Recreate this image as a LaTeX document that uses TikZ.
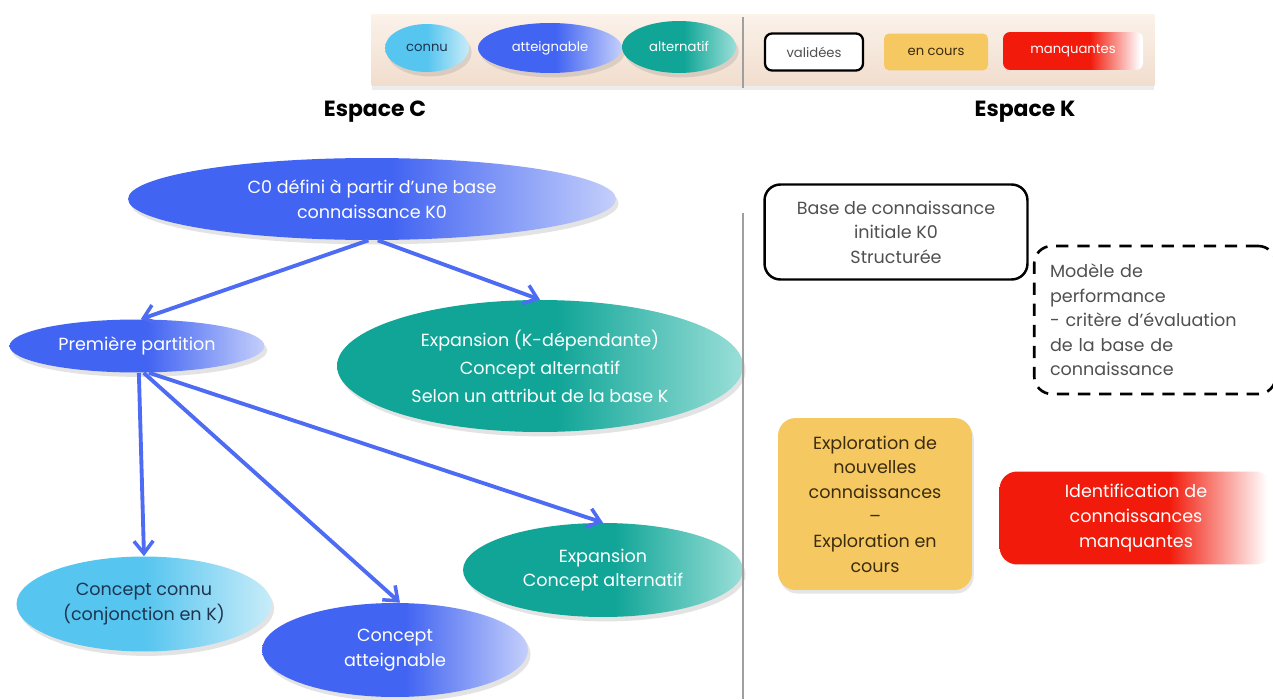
\documentclass[tikz,border=0pt]{standalone}
\usepackage{fontspec}
\setmainfont{Poppins}
\usetikzlibrary{shapes.geometric,arrows.meta,shadows}
\definecolor{blueA}{HTML}{4264F2}
\definecolor{blueB}{HTML}{C4CFFB}
\definecolor{tealA}{HTML}{10A597}
\definecolor{tealB}{HTML}{9ADFD8}
\definecolor{cyanA}{HTML}{56C5EF}
\definecolor{cyanB}{HTML}{C8ECF9}
\definecolor{yelA}{HTML}{F5C862}
\definecolor{redA}{HTML}{F21A0A}
\definecolor{arrC}{HTML}{4E6BF4}
\definecolor{begA}{HTML}{FBF2EA}
\definecolor{begB}{HTML}{F1DDCD}
\definecolor{txtD}{HTML}{1E3550}
\definecolor{txtG}{HTML}{505050}
\definecolor{txtY}{HTML}{3C2C0E}
\pgfdeclarehorizontalshading{redfade}{100bp}{color(0bp)=(redA); color(56bp)=(redA); color(74bp)=(white); color(100bp)=(white)}
\pgfdeclarehorizontalshading{bluefade}{100bp}{color(0bp)=(blueA); color(52bp)=(blueA); color(75bp)=(blueB); color(100bp)=(blueB)}
\pgfdeclarehorizontalshading{tealfade}{100bp}{color(0bp)=(tealA); color(52bp)=(tealA); color(75bp)=(tealB); color(100bp)=(tealB)}
\pgfdeclarehorizontalshading{cyanfade}{100bp}{color(0bp)=(cyanA); color(50bp)=(cyanA); color(75bp)=(cyanB); color(100bp)=(cyanB)}
\tikzset{
  ell/.style={ellipse, inner sep=0pt, align=center, drop shadow={shadow xshift=1.5pt, shadow yshift=-2.5pt, opacity=0.22}},
  bluell/.style={ell, shading=bluefade, text=white},
  tealell/.style={ell, shading=tealfade, text=white},
  cyanell/.style={ell, shading=cyanfade, text=txtD},
  maintxt/.style={font=\fontsize{10}{14}\selectfont},
  legtxt/.style={font=\fontsize{7.5}{9}\selectfont},
  arr/.style={draw=arrC, line width=2.2pt, -{Straight Barb[length=7pt,width=11pt,line width=2pt]}},
  divider/.style={draw=gray!75, line width=1pt},
  redbox/.style={rounded corners=6pt, shading=redfade, text=white, align=center},
}
\begin{document}
\begin{tikzpicture}[x=0.02cm,y=-0.02cm]
\useasboundingbox[fill=white] (0,0) rectangle (1273,699);
% legend bar
\node[draw=none, top color=begA, bottom color=begB, minimum width=15.66cm, minimum height=1.44cm, inner sep=0pt,
  drop shadow={shadow xshift=0pt, shadow yshift=-2pt, opacity=0.15}] (legbg) at (763,50) {};
\node[cyanell, legtxt, minimum width=1.68cm, minimum height=0.96cm] (lconnu) at (427,48) {connu};
\node[bluell, legtxt, minimum width=2.88cm, minimum height=1.0cm] (latt) at (550,48) {atteignable};
\node[tealell, legtxt, minimum width=2.28cm, minimum height=1.04cm] (lalt) at (679,47) {alternatif};
\coordinate (ldtop) at (743,17);
\coordinate (ldbot) at (743,88);
\draw[divider] (ldtop) -- (ldbot);
\node[draw=black, line width=1.3pt, rounded corners=4pt, fill=white, legtxt, text=txtG, minimum width=1.96cm, minimum height=0.74cm] (lval) at (814,52) {validées};
\node[fill=yelA, rounded corners=3pt, legtxt, text=txtY, minimum width=2.08cm, minimum height=0.74cm] (lenc) at (936,52) {en cours};
\node[redbox, legtxt, minimum width=2.8cm, minimum height=0.76cm, rounded corners=4pt] (lman) at (1073,51) {manquantes};
% titles
\node[font=\fontsize{12.5}{14}\selectfont\bfseries] (espC) at (375,112) {Espace C};
\node[font=\fontsize{12.5}{14}\selectfont\bfseries] (espK) at (1025,112) {Espace K};
% C space
\node[bluell, maintxt, minimum width=9.76cm, minimum height=1.64cm] (c0) at (372,199) {C0 défini à partir d'une base\\connaissance K0};
\node[bluell, maintxt, minimum width=5.1cm, minimum height=1.06cm] (p1) at (137,346) {Première partition};
\node[tealell, maintxt, font=\fontsize{10}{16}\selectfont, minimum width=8.12cm, minimum height=2.64cm] (e1) at (540,366) {Expansion (K-dépendante)\\Concept alternatif\\Selon un attribut de la base K};
\node[tealell, maintxt, minimum width=5.6cm, minimum height=1.88cm] (e2) at (603,570) {Expansion\\Concept alternatif};
\node[cyanell, maintxt, minimum width=5.1cm, minimum height=1.9cm] (cc) at (144,604) {Concept connu\\(conjonction en K)};
\node[bluell, maintxt, minimum width=5.32cm, minimum height=1.88cm] (ca) at (395,650) {Concept\\atteignable};
\draw[arr] (c0.-95) -- (p1.82);
\draw[arr] (c0.-82) -- (e1.north);
\draw[arr] (p1.-86) -- (cc.north);
\draw[arr] (p1.-76) -- (ca.84);
\draw[arr] (p1.-66) -- (e2.north);
% main divider
\coordinate (mdtop) at (743,213);
\coordinate (mdbot) at (743,699);
\draw[divider] (mdtop) -- (mdbot);
% K space
\node[draw=black, line width=1.4pt, rounded corners=9pt, fill=white, maintxt, text=txtG, align=center, minimum width=5.26cm, minimum height=1.9cm] (base) at (896,232) {Base de connaissance\\initiale K0\\Structurée};
\node[draw=black, line width=1.5pt, dash pattern=on 7pt off 5pt, rounded corners=10pt, maintxt, text=txtG, align=left, minimum width=4.74cm, minimum height=2.96cm, text width=4.2cm, inner xsep=9pt] (mod) at (1155,320) {Modèle de\\performance\\- critère d'évaluation\\de la base de\\connaissance};
\node[fill=yelA, rounded corners=10pt, maintxt, text=txtY, align=center, minimum width=3.88cm, minimum height=3.44cm, drop shadow={shadow xshift=1pt, shadow yshift=-2pt, opacity=0.2}] (expl) at (875,504) {Exploration de\\nouvelles\\connaissances\\–\\Exploration en\\cours};
\node[redbox, maintxt, rounded corners=10pt, minimum width=5.46cm, minimum height=1.86cm] (ident) at (1136,518) {Identification de\\connaissances\\manquantes};
\end{tikzpicture}
\end{document}
